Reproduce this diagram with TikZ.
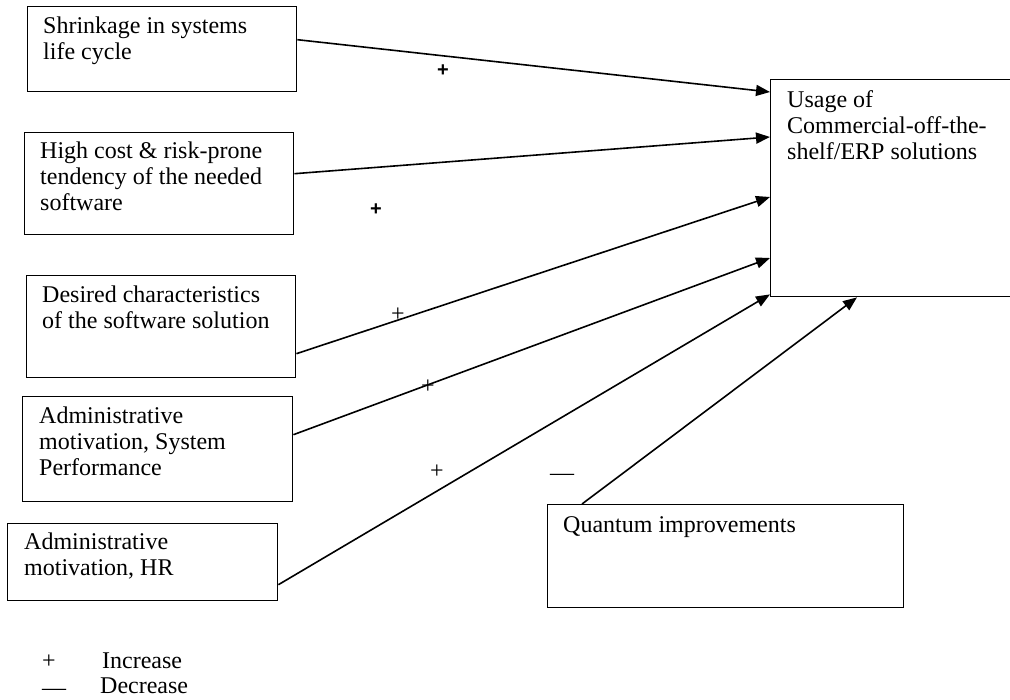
\documentclass[tikz,border=0pt]{standalone}
\usepackage{fontspec}
\setmainfont{Liberation Serif}
\newfontfamily\sansplus{Liberation Sans}
\usetikzlibrary{arrows.meta}
\begin{document}
\begin{tikzpicture}[x=1pt,y=-1pt,
  boxst/.style={draw, line width=1.4pt, rectangle, inner sep=0pt, anchor=north west},
  lbl/.style={anchor=north west, inner sep=0pt, align=left, font=\fontsize{24}{26}\selectfont},
  conn/.style={line width=1.6pt, -{Triangle[length=14pt,width=11pt]}},
  sgn/.style={inner sep=0pt, font=\fontsize{24}{26}\selectfont},
  sgnb/.style={inner sep=0pt, font=\sansplus\bfseries\fontsize{20}{22}\selectfont}]
\useasboundingbox (0,0) rectangle (1010,700);
% boxes
\node[boxst, minimum width=269pt, minimum height=85pt] (b1) at (27,6) {};
\node[boxst, minimum width=269pt, minimum height=102pt] (b2) at (24,132) {};
\node[boxst, minimum width=269pt, minimum height=102pt] (b3) at (26,275) {};
\node[boxst, minimum width=270pt, minimum height=105pt] (b4) at (22,396) {};
\node[boxst, minimum width=270pt, minimum height=77pt] (b5) at (7,523) {};
\node[boxst, minimum width=250pt, minimum height=217pt] (u) at (770,79) {};
\node[boxst, minimum width=356pt, minimum height=103pt] (q) at (547,504) {};
% texts
\node[lbl] (t1) at (43,14.8) {\strut Shrinkage in systems\\life cycle};
\node[lbl] (t2) at (40,139.8) {\strut High cost \& risk-prone\\tendency of the needed\\software};
\node[lbl] (t3) at (42,283.8) {\strut Desired characteristics\\of the software solution};
\node[lbl] (t4) at (39,404.8) {\strut Administrative\\motivation, System\\Performance};
\node[lbl] (t5) at (24,530.8) {\strut Administrative\\motivation, HR};
\node[lbl] (tu) at (787,88.8) {\strut Usage of\\Commercial-off-the-\\shelf/ERP solutions};
\node[lbl] (tq) at (563,513.8) {\strut Quantum improvements};
% connectors
\draw[conn] ([yshift=9.5pt]b1.east) -- ([yshift=-13pt]u.north west);
\draw[conn] ([yshift=10pt]b2.east) -- ([yshift=-58pt]u.north west);
\draw[conn] ([yshift=-27pt]b3.east) -- ([yshift=-118pt]u.north west);
\draw[conn] ([yshift=14.5pt]b4.east) -- ([yshift=-179pt]u.north west);
\draw[conn] ([yshift=-22.5pt]b5.east) -- ([yshift=3pt]u.south west);
\draw[conn] ([xshift=35pt]q.north west) -- ([xshift=87pt]u.south west);
% signs
\node[sgnb] (p1) at (443,71) {+};
\node[sgnb] (p2) at (376,210) {+};
\node[sgn] (p3) at (398,315) {+};
\node[sgn] (p4) at (428,387) {+};
\node[sgn] (p5) at (437,472) {+};
\node[sgn] (m1) at (562,477) {—};
% legend
\node[sgn] (lp) at (49,662) {+};
\node[sgn] (lm) at (54,692) {—};
\node[lbl] (li) at (102,649.8) {\strut Increase};
\node[lbl] (ld) at (100,674.8) {\strut Decrease};
\end{tikzpicture}
\end{document}
